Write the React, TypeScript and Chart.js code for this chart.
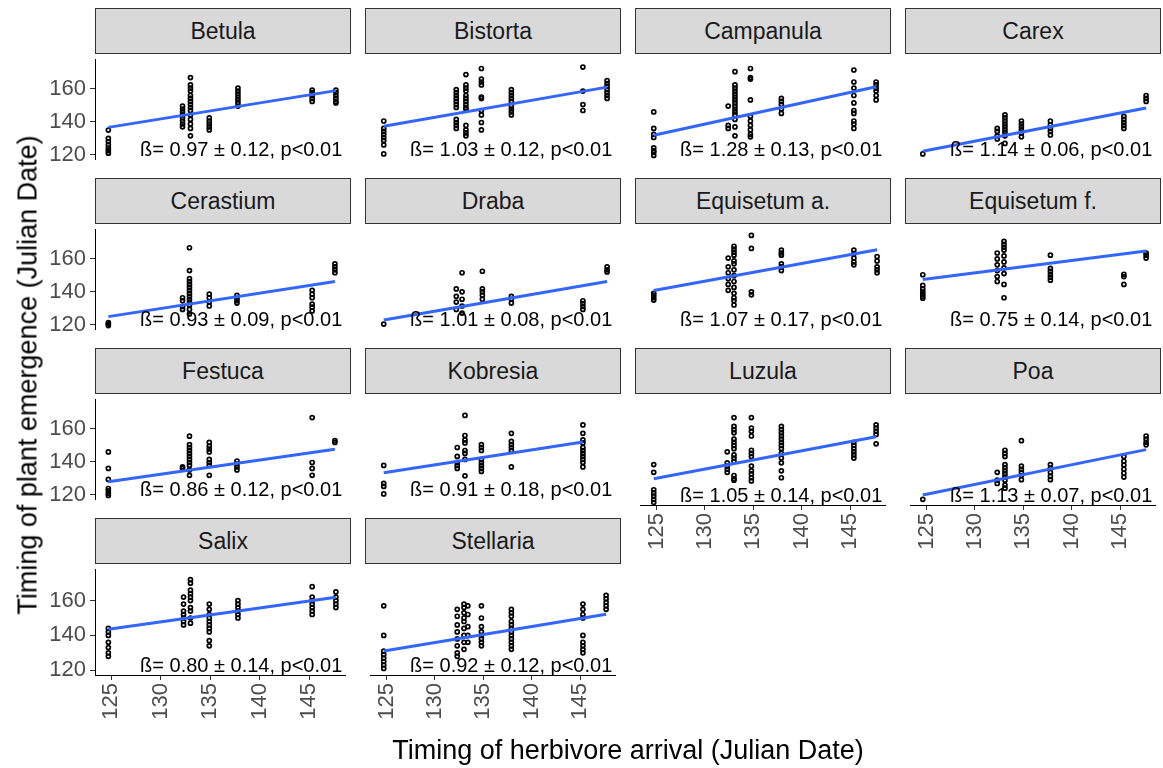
import { useEffect, useRef } from "react";
import { Chart, registerables } from "chart.js";

Chart.register(...registerables);

// Facet titles, in panel order (4 per row)
const TAXA = [
  "Betula", "Bistorta", "Campanula", "Carex",
  "Cerastium", "Draba", "Equisetum a.", "Equisetum f.",
  "Festuca", "Kobresia", "Luzula", "Poa",
  "Salix", "Stellaria",
];

// Slope estimates and their standard errors
const BETA = [0.97, 1.03, 1.28, 1.14, 0.93, 1.01, 1.07, 0.75, 0.86, 0.91, 1.05, 1.13, 0.8, 0.92];
const BETA_SE = [0.12, 0.12, 0.13, 0.06, 0.09, 0.08, 0.17, 0.14, 0.12, 0.18, 0.14, 0.07, 0.14, 0.12];
const P_LABEL = "p<0.01";

// Fitted plant emergence at the middle of each taxon's arrival range
const FIT_MID = [147.8, 149.2, 146.6, 135.3, 135.6, 134.6, 153.2, 156.2, 137.8, 142.7, 144.4, 136.0, 152.7, 141.6];

// Observations: [herbivore arrival day, plant emergence days]
type Group = [number, number[]];

const betula: Group[] = [
  [124.7, [135, 130, 128, 126, 124, 122.5, 121]],
  [132.2, [149.6, 147.8, 146, 144.2, 142.4, 140.5, 138.7, 137]],
  [133.0, [166.9, 162.4, 160.5, 158.7, 156, 154.2, 152.4, 150.5, 148.7, 146.9, 144.2, 141.5, 138.7, 136, 131.5]],
  [134.9, [142.4, 140.5, 138.7, 136.9, 135.1]],
  [137.8, [160.5, 158.7, 156.9, 155.1, 153.3, 151.5, 149.6]],
  [145.3, [159.3, 157.8, 156, 154.2, 152.4]],
  [147.7, [159.3, 157.8, 156, 154.2, 152.4, 151.5]],
];

const bistorta: Group[] = [
  [124.7, [140.5, 136, 134.2, 132.4, 130.5, 128.7, 126, 120.5]],
  [132.2, [159.6, 157.8, 156, 154.2, 152.4, 150.5, 148.7, 141.5, 139.6, 137.8, 136]],
  [133.2, [168.7, 162.4, 160.5, 158.7, 156, 154.2, 152.4, 150.5, 148.7, 147.8, 137.8, 135.1, 133.3, 131.5]],
  [134.8, [172.4, 166, 164.2, 162.4, 155.1, 154.2, 146.9, 144.2, 139.6, 135.1]],
  [137.9, [159.6, 157.8, 156, 154.2, 152.4, 149.6, 147.8, 146, 144.2]],
  [145.3, [173.3, 158.7, 150.5, 146.9]],
  [147.8, [165.1, 163.3, 161.5, 159.6, 157.8, 156, 154.2]],
];

const campanula: Group[] = [
  [124.7, [146, 136, 132.4, 130.5, 124.2, 122.4, 121.5, 119.6]],
  [132.4, [149.6, 137.8, 136]],
  [133.1, [170.5, 162.4, 160.5, 158.7, 156.9, 155.1, 153.3, 151.5, 149.6, 147.8, 146, 144.2, 141.5, 136.9, 131.5]],
  [134.7, [172.4, 166.9, 166, 153.3, 143.3, 140.5, 137.8, 135.1, 132.4, 130.9]],
  [137.9, [154.2, 152.4, 150.5, 147.8, 145.1]],
  [145.4, [171.5, 164.2, 160.5, 156, 151.5, 146.9, 145.1, 140.5, 138.7, 136]],
  [147.7, [164.2, 162.4, 160.5, 158.7, 156, 153.3]],
];

const carex: Group[] = [
  [124.6, [120.5]],
  [132.3, [136, 134.2, 131.5, 129.6]],
  [133.1, [144.2, 142.4, 140.5, 138.7, 136.9, 135.1, 133.3, 131.5, 126.9]],
  [134.8, [140.5, 138.7, 136.9, 135.1, 133.3, 130.9]],
  [137.8, [140.5, 138.2, 136, 134.2, 132]],
  [145.4, [143.3, 141.5, 139.6, 137.8, 136]],
  [147.7, [156, 154.2, 152.4]],
];

const cerastium: Group[] = [
  [124.7, [121.3, 120.4, 119.5]],
  [132.2, [136.4, 134.6, 131.1, 129.3]],
  [132.9, [166.8, 152.9, 148, 146.3, 144.5, 142.7, 140.9, 139.1, 137.3, 135.5, 133.8, 132, 129.3, 126.6]],
  [134.9, [138.6, 136.4, 133.8, 131.4]],
  [137.7, [137.9, 136.1, 134.6, 133.2]],
  [145.3, [140.9, 138.6, 136.4, 132.5, 130.7, 128.4]],
  [147.6, [157, 155.2, 153.4, 151.6]],
];

const draba: Group[] = [
  [124.7, [120.4]],
  [132.2, [141.8, 137.3, 133.8, 129.3]],
  [132.8, [151.6, 140, 135.5, 131.4, 127.1]],
  [134.9, [152.5, 141.8, 140, 137.9, 135.5]],
  [137.9, [137.3, 135.5, 133.2]],
  [145.3, [134.6, 132.9, 131.1, 129.3]],
  [147.8, [155.2, 153.4, 152.1]],
];

const equisetumA: Group[] = [
  [124.7, [139.1, 137.9, 136.4, 135]],
  [132.4, [160.5, 155.2, 151.6, 148, 144.5, 140.9]],
  [133.0, [167.7, 165.9, 164.1, 162.3, 158.8, 157, 153.4, 149.8, 146.3, 142.7, 139.1, 136.4, 134.6, 132]],
  [134.8, [174.3, 166.4, 140, 138.2]],
  [137.9, [165.4, 163.6, 162.3, 157, 155.2, 152.9]],
  [145.4, [165.4, 163.2, 160.5, 158.2, 156.4]],
  [147.8, [161.4, 158.8, 155.2, 153.4, 151.6]],
];

const equisetumF: Group[] = [
  [124.6, [150.4, 143.9, 141.8, 140, 138.6, 137.3, 136.1]],
  [132.3, [163.6, 160, 156.4, 152.9, 149.3, 146.3]],
  [133.0, [170.7, 168.9, 167.1, 165.4, 161.8, 158.2, 154.6, 151.1, 144.5, 136.4]],
  [137.8, [162.3, 154.3, 152.5, 150.7, 148.9, 147.1]],
  [145.4, [150.7, 149.3, 144.5]],
  [147.7, [163.6, 162.3, 160.5]],
];

const festuca: Group[] = [
  [124.7, [146, 136, 129.3, 123.8, 122.4, 120.9, 119.6]],
  [132.2, [136.9, 136]],
  [132.9, [155.6, 150.5, 148.7, 146.9, 145.1, 143.3, 141.5, 139.6, 137.8, 135.1, 131.8]],
  [134.9, [151.8, 149.6, 147.8, 146, 141.5, 139.6, 137.8, 131.8]],
  [137.7, [140.5, 138.7, 136.9, 135.1]],
  [145.3, [166.9, 139.6, 136, 131.8]],
  [147.6, [152.9, 151.8]],
];

const kobresia: Group[] = [
  [124.7, [137.8, 126.9, 125.1, 120.5]],
  [132.3, [148.7, 143.3, 139.6, 137.8, 136]],
  [133.1, [168.2, 156, 153.3, 151.5, 146.9, 145.1, 141.5, 131.5]],
  [134.8, [150.5, 148.7, 146.9, 141.5, 139.6, 137.8, 136, 134.2]],
  [137.9, [157.3, 152.4, 150.5, 148.7, 146.9, 136.9]],
  [145.3, [162.4, 157.3, 153.3, 151.5, 148.7, 146.9, 145.1, 143.3, 141.5, 139.6, 136.9]],
];

const luzula: Group[] = [
  [124.7, [140.5, 136, 126, 124.2, 122.4, 120.5, 118.7]],
  [132.3, [147.8, 141.5, 139.6, 137.8, 136]],
  [133.0, [167.5, 162.4, 160.5, 158.7, 155.1, 153.3, 151.5, 149.6, 146, 144.2, 142.4, 134.2, 132.4, 131.5]],
  [134.8, [167.5, 161.5, 159.6, 156.9, 148.7, 146.9, 145.1, 139.6, 136.9, 135.1, 132.9, 131.1]],
  [137.9, [162.4, 160.5, 158.7, 156.9, 155.1, 153.3, 151.5, 149.6, 146.9, 144.2, 141.5, 136.9, 132.9]],
  [145.4, [153.3, 151.5, 149.6, 147.8, 146, 144.2]],
  [147.7, [163.3, 161.5, 159.6, 157.8, 152.4]],
];

const poa: Group[] = [
  [124.6, [120.5]],
  [132.3, [136, 131.5, 129.6]],
  [133.1, [148.7, 146.9, 145.1, 140.5, 138.7, 136.9, 135.1, 133.3, 131.5, 128.7, 126.9]],
  [134.8, [154.2, 139.6, 137.8, 136, 134.2, 131.8]],
  [137.8, [140.5, 138.4, 136, 133.7, 131.8]],
  [145.4, [145.1, 142.4, 140.2, 137.8, 135.5, 133.3]],
  [147.7, [156.9, 155.1, 153.3, 151.8]],
];

const salix: Group[] = [
  [124.7, [144, 142, 140, 136, 133, 130, 128]],
  [132.3, [162, 158, 154, 152, 150, 148, 146]],
  [133.0, [172, 170, 166, 164, 162, 160, 156, 154, 150, 147]],
  [134.9, [158, 155, 152, 150, 148, 146, 144, 142, 137, 134]],
  [137.8, [160, 158, 156, 154, 152, 150]],
  [145.3, [168, 162, 160, 158, 156, 154, 152]],
  [147.7, [165, 162, 160, 158, 156]],
];

const stellaria: Group[] = [
  [124.7, [157, 140, 131, 129, 127, 125, 123, 121]],
  [132.3, [155, 151, 146, 142, 138, 134, 130, 128]],
  [133.0, [158, 156, 153, 150, 148, 144, 140, 136, 132]],
  [133.4, [157, 152, 145, 140, 136]],
  [134.8, [157, 150, 145, 142, 140, 138, 136, 134]],
  [137.9, [155, 153, 151, 148, 146, 144, 142, 140, 138, 136, 134, 132]],
  [145.3, [158, 155, 152, 150, 140, 136, 134, 132, 130]],
  [147.7, [163, 161, 159, 157, 155]],
];

const OBS: Group[][] = [
  betula, bistorta, campanula, carex,
  cerastium, draba, equisetumA, equisetumF,
  festuca, kobresia, luzula, poa,
  salix, stellaria,
];

// Shared axes
const X_TICKS = [125, 130, 135, 140, 145];
const Y_TICKS = [120, 140, 160];
const X_MIN = 123.35;
const X_MAX = 148.65;
const Y_MIN = 117.25;
const Y_MAX = 177.75;
const LABEL_Y = 122.4;

// Page geometry
const COL_LEFT = [95, 365, 635, 905];
const STRIP_TOP = [8, 178, 348, 518];
const PANEL_W = 256;
const STRIP_H = 46;
const PANEL_H = 111;
const Y_AXIS_W = 70;
const X_AXIS_H = 60;

const FONT = '"Liberation Sans", Arial, sans-serif';
const TICK_FONT = { family: FONT, size: 22 };
const LABEL_FONT = `20px ${FONT}`;

function Panel({ idx }: { idx: number }) {
  const ref = useRef<HTMLCanvasElement | null>(null);
  const col = idx % 4;
  const row = Math.floor(idx / 4);
  const showY = col === 0;
  const showX = idx >= TAXA.length - 4;
  const left = COL_LEFT[col] - (showY ? Y_AXIS_W : 0);
  const top = STRIP_TOP[row] + STRIP_H;
  const w = PANEL_W + (showY ? Y_AXIS_W : 0);
  const h = PANEL_H + (showX ? X_AXIS_H : 0);

  useEffect(() => {
    if (!ref.current) return;
    const groups = OBS[idx];
    const points = groups.flatMap(([x, ys]) => ys.map((y) => ({ x, y })));
    const xs = groups.map((g) => g[0]);
    const x0 = Math.min(...xs);
    const x1 = Math.max(...xs);
    const xm = (x0 + x1) / 2;
    const fit = (x: number) => FIT_MID[idx] + BETA[idx] * (x - xm);
    const text = `ß= ${BETA[idx].toFixed(2)} ± ${BETA_SE[idx].toFixed(2)}, ${P_LABEL}`;

    const betaLabel = {
      id: "betaLabel",
      afterDatasetsDraw(chart: any) {
        const { ctx, chartArea, scales } = chart;
        ctx.save();
        ctx.font = LABEL_FONT;
        ctx.fillStyle = "#000000";
        ctx.textAlign = "right";
        ctx.textBaseline = "middle";
        ctx.fillText(text, chartArea.right - 3, scales.y.getPixelForValue(LABEL_Y));
        ctx.restore();
      },
    };

    const axisGrid = {
      display: true,
      drawOnChartArea: false,
      drawTicks: true,
      tickLength: 5,
      color: "#333333",
      lineWidth: 1,
    };

    const chart = new Chart(ref.current, {
      type: "scatter",
      data: {
        datasets: [
          {
            type: "scatter",
            data: points,
            pointRadius: 2,
            pointStyle: "circle",
            borderColor: "#000000",
            borderWidth: 1.7,
            backgroundColor: "rgba(0,0,0,0)",
            order: 2,
          },
          {
            type: "line",
            data: [
              { x: x0, y: fit(x0) },
              { x: x1, y: fit(x1) },
            ],
            borderColor: "#3366FF",
            borderWidth: 3,
            pointRadius: 0,
            order: 1,
          },
        ],
      } as any,
      options: {
        responsive: true,
        maintainAspectRatio: false,
        animation: false,
        devicePixelRatio: 1,
        layout: { padding: 0 },
        plugins: {
          legend: { display: false },
          tooltip: { enabled: false },
        },
        scales: {
          x: {
            type: "linear",
            display: showX,
            min: X_MIN,
            max: X_MAX,
            afterBuildTicks: (s: any) => {
              s.ticks = X_TICKS.map((v) => ({ value: v }));
            },
            afterFit: (s: any) => {
              s.height = showX ? X_AXIS_H : 0;
              s.paddingLeft = 0;
              s.paddingRight = 0;
            },
            grid: axisGrid,
            border: { display: true, color: "#000000", width: 1 },
            ticks: {
              color: "#4D4D4D",
              font: TICK_FONT,
              minRotation: 90,
              maxRotation: 90,
              padding: 3,
              autoSkip: false,
            },
          },
          y: {
            type: "linear",
            display: showY,
            min: Y_MIN,
            max: Y_MAX,
            afterBuildTicks: (s: any) => {
              s.ticks = Y_TICKS.map((v) => ({ value: v }));
            },
            afterFit: (s: any) => {
              s.width = showY ? Y_AXIS_W : 0;
              s.paddingTop = 0;
              s.paddingBottom = 0;
            },
            grid: axisGrid,
            border: { display: true, color: "#000000", width: 1 },
            ticks: {
              color: "#4D4D4D",
              font: TICK_FONT,
              padding: 4,
            },
          },
        },
      } as any,
      plugins: [betaLabel],
    });
    return () => chart.destroy();
  }, [idx]);

  return (
    <>
      <div
        style={{
          position: "absolute",
          left: COL_LEFT[col],
          top: STRIP_TOP[row],
          width: PANEL_W,
          height: STRIP_H,
          boxSizing: "border-box",
          background: "#D9D9D9",
          border: "1px solid #333333",
          display: "flex",
          alignItems: "center",
          justifyContent: "center",
          fontFamily: FONT,
          fontSize: 23,
          color: "#1A1A1A",
          whiteSpace: "nowrap",
        }}
      >
        {TAXA[idx]}
      </div>
      <div style={{ position: "absolute", left, top, width: w, height: h }}>
        <canvas ref={ref} />
      </div>
    </>
  );
}

export default function App() {
  return (
    <div
      style={{
        position: "absolute",
        left: 0,
        top: 0,
        width: 1163,
        height: 768,
        background: "#FFFFFF",
        overflow: "hidden",
        fontFamily: FONT,
      }}
    >
      {TAXA.map((_, i) => (
        <Panel key={i} idx={i} />
      ))}
      <div
        style={{
          position: "absolute",
          left: 28,
          top: 375,
          transform: "translate(-50%, -50%) rotate(-90deg)",
          whiteSpace: "nowrap",
          fontSize: 27,
          lineHeight: 1,
          color: "#000000",
        }}
      >
        Timing of plant emergence (Julian Date)
      </div>
      <div
        style={{
          position: "absolute",
          left: 628,
          top: 750,
          transform: "translate(-50%, -50%)",
          whiteSpace: "nowrap",
          fontSize: 27,
          lineHeight: 1,
          color: "#000000",
        }}
      >
        Timing of herbivore arrival (Julian Date)
      </div>
    </div>
  );
}
